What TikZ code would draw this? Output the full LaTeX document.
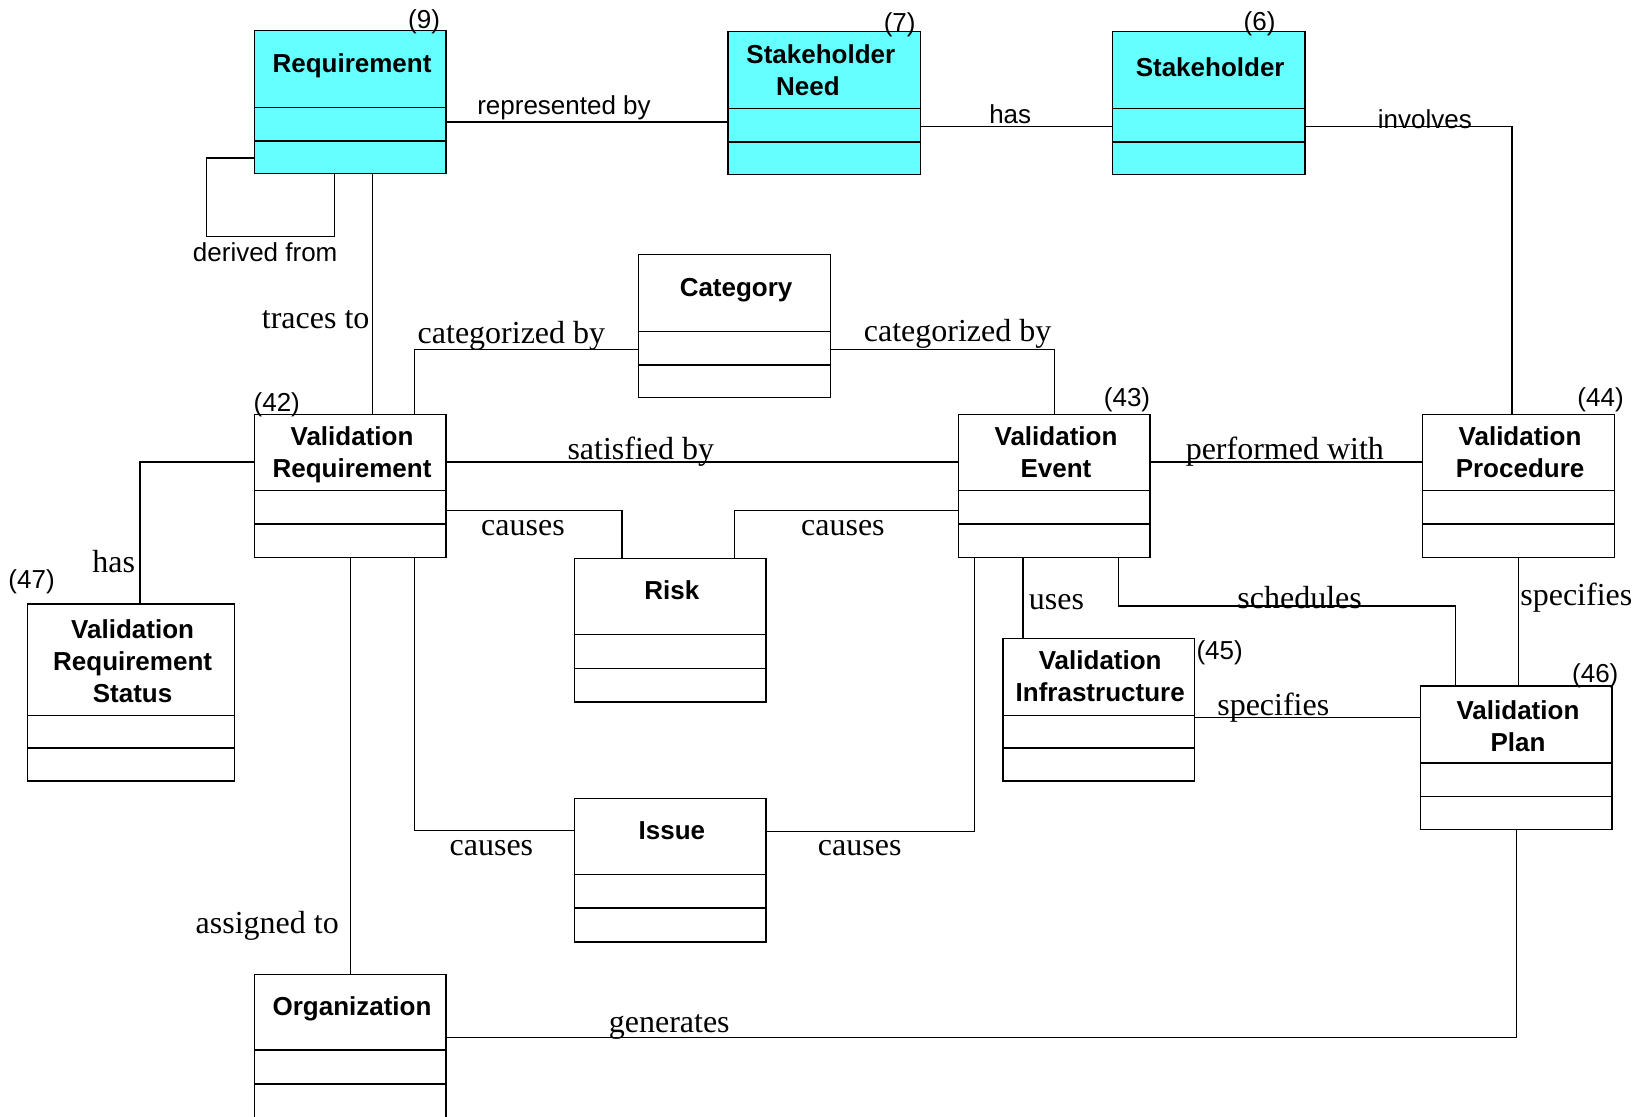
\documentclass[tikz,border=0pt]{standalone}
\usepackage{fontspec}
\setmainfont{Liberation Serif}
\setsansfont{Liberation Sans}
\usetikzlibrary{fit}
\definecolor{corecyan}{RGB}{102,255,255}

\tikzset{
  x=0.52615pt, y=-0.52615pt,
  cls/.style={draw, line width=0.7pt, inner sep=0pt, outer sep=0pt, fill=white},
  core/.style={cls, fill=corecyan},
  ctitle/.style={anchor=north, inner sep=0pt, align=center, xshift=0.8pt,
    font=\sffamily\bfseries\fontsize{13}{16}\selectfont},
  title sn/.style={xshift=-2.6pt},
  slabel/.style={inner sep=0pt, yshift=-1.5pt, font=\sffamily\fontsize{13}{15}\selectfont},
  rlabel/.style={inner sep=0pt, yshift=-1.6pt, font=\rmfamily\fontsize{16}{18}\selectfont},
  num/.style={inner sep=0pt, yshift=-1.2pt, font=\sffamily\fontsize{13}{15}\selectfont},
  link/.style={line width=0.7pt},
}

% \umlclass[style]{name}{x1,y1}{x2,y2}{divider 1}{divider 2}{title top}{title}
\newcommand\umlclass[8][cls]{%
  \node[#1, fit={(#3) (#4)}] (#2) {};
  \draw[line width=0.7pt] (#2.west |- 0,#5) -- (#2.east |- 0,#5);
  \draw[line width=0.7pt] (#2.west |- 0,#6) -- (#2.east |- 0,#6);
  \node[ctitle, title #2/.try] (#2-title) at (#2.north |- 0,#7) {\strut #8};
}

\begin{document}
\begin{tikzpicture}
  \useasboundingbox (0,0) rectangle (1568,1061);
  \fill[white] (0,0) rectangle (1568,1061);
  \clip (0,0) rectangle (1568,1061);

  % classes
  \umlclass[core]{req}{242,29}{424,165}{102}{134}{47}{Requirement}
  \umlclass[core]{sn}{692,30}{875,166}{103}{135}{39}{Stakeholder\\Need\hspace*{13pt}}
  \umlclass[core]{sh}{1057,30}{1240,166}{103}{135}{51}{Stakeholder}
  \umlclass{cat}{607,242}{789,378}{315}{347}{260}{Category}
  \umlclass{vreq}{242,394}{424,530}{466}{498}{402}{Validation\\Requirement}
  \umlclass{vev}{911,394}{1093,530}{466}{498}{402}{Validation\\Event}
  \umlclass{vproc}{1352,394}{1534,530}{466}{498}{402}{Validation\\Procedure}
  \umlclass{vrs}{26,574}{223,742}{680}{711}{585}{Validation\\Requirement\\Status}
  \umlclass{risk}{546,531}{728,667}{603}{635}{548}{Risk}
  \umlclass{vinf}{953,607}{1135,742}{680}{711}{615}{Validation\\Infrastructure}
  \umlclass{vplan}{1350,652}{1532,788}{725}{757}{662}{Validation\\Plan}
  \umlclass{issue}{546,759}{728,895}{831}{863}{776}{Issue}
  \umlclass{org}{242,926}{424,1090}{998}{1030}{943}{Organization}

  % reference numbers
  \node[num] (n9)  at (403,18)  {(9)};
  \node[num] (n7)  at (855,21)  {(7)};
  \node[num] (n6)  at (1197,20) {(6)};
  \node[num] (n42) at (263,382) {(42)};
  \node[num] (n43) at (1071,378) {(43)};
  \node[num] (n44) at (1521,378) {(44)};
  \node[num] (n47) at (30,551)  {(47)};
  \node[num] (n45) at (1159,618) {(45)};
  \node[num] (n46) at (1516,640) {(46)};

  % associations
  \draw[link] (req.east |- 0,116) -- (sn.west |- 0,116);
  \draw[link] (sn.east |- 0,120) -- (sh.west |- 0,120);
  \draw[link] (sh.east |- 0,120) -| (vproc.north -| 1437,0);
  \draw[link] (req.west |- 0,150) -- (196,150) -- (196,225) -- (318,225) -- (req.south -| 318,0);
  \draw[link] (req.south -| 354,0) -- (vreq.north -| 354,0);
  \draw[link] (vreq.north -| 394,0) |- (cat.west |- 0,332);
  \draw[link] (cat.east |- 0,332) -| (vev.north -| 1002,0);
  \draw[link] (vreq.east |- 0,439) -- (vev.west |- 0,439);
  \draw[link] (vev.east |- 0,439) -- (vproc.west |- 0,439);
  \draw[link] (vreq.west |- 0,439) -| (vrs.north -| 133,0);
  \draw[link] (vreq.east |- 0,485) -| (risk.north -| 591,0);
  \draw[link] (vev.west |- 0,485) -| (risk.north -| 698,0);
  \draw[link] (vreq.south -| 394,0) |- (issue.west |- 0,789);
  \draw[link] (issue.east |- 0,790) -| (vev.south -| 926,0);
  \draw[link] (vev.south -| 972,0) -- (vinf.north -| 972,0);
  \draw[link] (vev.south -| 1063,0) |- (1383,576) -- (vplan.north -| 1383,0);
  \draw[link] (vproc.south -| 1443,0) -- (vplan.north -| 1443,0);
  \draw[link] (vinf.east |- 0,682) -- (vplan.west |- 0,682);
  \draw[link] (vreq.south -| 333,0) -- (org.north -| 333,0);
  \draw[link] (org.east |- 0,986) -| (vplan.south -| 1441,0);

  % association labels
  \node[slabel] (l-rep)  at (536,100) {represented by};
  \node[slabel] (l-has1) at (960,106) {has};
  \node[slabel] (l-inv)  at (1354,110) {involves};
  \node[slabel] (l-der)  at (252,237) {derived from};
  \node[rlabel] (l-tr)   at (300,301) {traces to};
  \node[rlabel] (l-cat1) at (486,316) {categorized by};
  \node[rlabel] (l-cat2) at (910,314) {categorized by};
  \node[rlabel] (l-sat)  at (609,426) {satisfied by};
  \node[rlabel] (l-perf) at (1221,426) {performed with};
  \node[rlabel] (l-has2) at (108,531) {has};
  \node[rlabel] (l-c1)   at (497,499) {causes};
  \node[rlabel] (l-c2)   at (801,499) {causes};
  \node[rlabel] (l-c3)   at (467,803) {causes};
  \node[rlabel] (l-c4)   at (817,803) {causes};
  \node[rlabel] (l-uses) at (1004,569) {uses};
  \node[rlabel] (l-sch)  at (1235,565) {schedules};
  \node[rlabel] (l-sp1)  at (1498,565) {specifies};
  \node[rlabel] (l-sp2)  at (1210,669) {specifies};
  \node[rlabel] (l-asg)  at (254,877) {assigned to};
  \node[rlabel] (l-gen)  at (636,973) {generates};
\end{tikzpicture}
\end{document}
